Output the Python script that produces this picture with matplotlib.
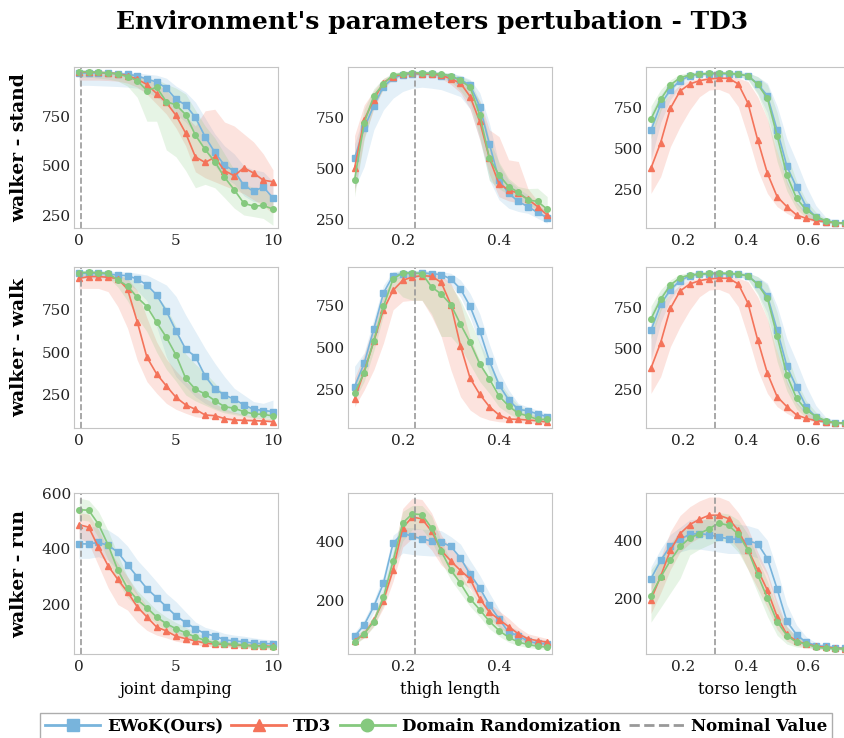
import numpy as np
import matplotlib.pyplot as plt
from matplotlib.lines import Line2D

plt.rcParams['font.family'] = 'DejaVu Serif'

# parameter grids
damping = np.arange(0, 10.01, 0.5)
thigh = np.round(np.arange(0.1, 0.501, 0.02), 2)
torso = np.linspace(0.095, 0.72, 21)

# ---- walker stand / joint damping
stand_damp_ewok = [966, 966, 966, 966, 962, 959, 952, 935, 921, 890, 834, 805, 743, 646, 568, 503, 474, 402, 372, 394, 339]
stand_damp_ewok_lo = [904, 904, 902, 900, 898, 895, 890, 870, 845, 810, 760, 720, 660, 580, 500, 440, 410, 350, 320, 320, 280]
stand_damp_ewok_hi = [975, 975, 975, 975, 972, 970, 968, 960, 955, 940, 900, 870, 820, 740, 660, 600, 560, 500, 480, 470, 420]
stand_damp_td3 = [972, 971, 969, 966, 962, 952, 935, 908, 863, 818, 753, 664, 545, 517, 543, 476, 450, 490, 464, 428, 420]
stand_damp_td3_lo = [930, 930, 930, 928, 925, 915, 895, 860, 810, 760, 690, 600, 470, 440, 420, 400, 380, 360, 330, 300, 260]
stand_damp_td3_hi = [980, 980, 978, 975, 972, 965, 955, 940, 910, 880, 820, 750, 700, 776, 784, 720, 700, 660, 620, 560, 480]
stand_damp_dr = [973, 973, 969, 966, 962, 947, 928, 878, 894, 822, 806, 757, 654, 582, 521, 443, 380, 312, 298, 301, 283]
stand_damp_dr_lo = [945, 945, 940, 935, 925, 900, 844, 724, 724, 580, 545, 476, 390, 407, 390, 340, 288, 253, 245, 236, 202]
stand_damp_dr_hi = [978, 978, 976, 974, 972, 965, 955, 935, 935, 910, 890, 860, 780, 700, 640, 560, 480, 410, 390, 380, 340]

# ---- walker stand / thigh length
stand_thigh_ewok = [549, 696, 807, 900, 941, 958, 962, 962, 962, 954, 949, 933, 908, 802, 619, 443, 377, 337, 312, 283, 258]
stand_thigh_ewok_lo = [400, 508, 688, 786, 843, 876, 892, 897, 892, 885, 868, 851, 790, 639, 443, 345, 304, 288, 279, 255, 230]
stand_thigh_ewok_hi = [620, 760, 860, 930, 960, 972, 975, 975, 975, 970, 965, 955, 935, 870, 720, 520, 440, 400, 370, 320, 290]
stand_thigh_td3 = [500, 737, 835, 920, 949, 962, 966, 962, 962, 956, 938, 917, 851, 729, 549, 423, 394, 377, 348, 312, 271]
stand_thigh_td3_lo = [380, 650, 790, 890, 935, 950, 955, 955, 950, 940, 910, 870, 790, 640, 470, 360, 340, 330, 310, 280, 250]
stand_thigh_td3_hi = [660, 810, 880, 940, 960, 972, 975, 972, 972, 968, 955, 940, 900, 830, 688, 655, 541, 533, 400, 340, 290]
stand_thigh_dr = [443, 721, 855, 913, 958, 962, 969, 966, 966, 961, 954, 930, 897, 761, 549, 467, 410, 382, 345, 337, 299]
stand_thigh_dr_lo = [360, 640, 800, 890, 945, 955, 958, 958, 955, 945, 925, 880, 820, 655, 440, 400, 370, 350, 320, 300, 270]
stand_thigh_dr_hi = [560, 790, 890, 940, 968, 975, 978, 975, 975, 972, 965, 950, 930, 830, 640, 530, 450, 410, 400, 402, 361]

# ---- walker stand / torso length
stand_torso_ewok = [611, 770, 860, 915, 946, 954, 956, 958, 956, 954, 946, 895, 823, 613, 393, 262, 144, 79, 52, 46, 42]
stand_torso_ewok_lo = [430, 660, 800, 880, 925, 940, 945, 945, 945, 940, 925, 840, 720, 480, 280, 160, 90, 55, 42, 38, 36]
stand_torso_ewok_hi = [720, 830, 900, 940, 960, 965, 968, 968, 968, 965, 962, 940, 900, 760, 560, 420, 270, 150, 80, 60, 50]
stand_torso_td3 = [379, 536, 746, 852, 895, 915, 926, 930, 930, 895, 777, 552, 348, 205, 144, 93, 72, 58, 52, 46, 42]
stand_torso_td3_lo = [225, 328, 511, 634, 736, 817, 858, 862, 838, 756, 572, 368, 225, 144, 103, 72, 60, 50, 45, 40, 38]
stand_torso_td3_hi = [593, 756, 838, 889, 919, 930, 940, 945, 945, 930, 910, 817, 680, 480, 300, 170, 110, 80, 65, 55, 48]
stand_torso_dr = [681, 801, 889, 934, 950, 956, 960, 962, 960, 956, 944, 893, 807, 577, 338, 195, 123, 83, 58, 46, 42]
stand_torso_dr_lo = [560, 730, 850, 910, 935, 945, 948, 950, 948, 945, 920, 830, 680, 420, 240, 130, 75, 50, 42, 38, 36]
stand_torso_dr_hi = [760, 860, 920, 955, 965, 970, 972, 972, 972, 970, 965, 940, 890, 720, 470, 300, 180, 110, 70, 55, 48]

# ---- walker walk / joint damping
walk_damp_ewok = [960, 960, 960, 956, 950, 946, 927, 892, 834, 740, 624, 517, 474, 361, 286, 250, 225, 192, 166, 159, 153]
walk_damp_ewok_lo = [930, 930, 930, 925, 915, 900, 860, 800, 649, 474, 357, 299, 240, 201, 172, 153, 143, 133, 125, 120, 115]
walk_damp_ewok_hi = [975, 975, 975, 972, 970, 968, 960, 950, 921, 892, 826, 717, 620, 522, 435, 357, 289, 250, 211, 201, 220]
walk_damp_td3 = [931, 941, 941, 937, 929, 867, 678, 470, 373, 303, 236, 192, 166, 133, 129, 112, 104, 102, 100, 98, 94]
walk_damp_td3_lo = [872, 872, 872, 853, 766, 640, 454, 328, 260, 201, 166, 143, 123, 114, 108, 100, 98, 96, 94, 94, 90]
walk_damp_td3_hi = [955, 958, 958, 955, 950, 930, 860, 700, 560, 460, 390, 330, 280, 230, 200, 170, 150, 135, 125, 118, 110]
walk_damp_dr = [964, 966, 964, 960, 921, 886, 820, 766, 674, 587, 483, 347, 283, 256, 217, 182, 172, 153, 139, 137, 127]
walk_damp_dr_lo = [945, 945, 945, 935, 880, 800, 700, 620, 500, 400, 330, 250, 215, 190, 165, 145, 135, 125, 115, 110, 105]
walk_damp_dr_hi = [975, 975, 975, 972, 950, 935, 910, 880, 830, 760, 650, 490, 430, 380, 320, 250, 215, 190, 170, 165, 160]

# ---- walker walk / thigh length
walk_thigh_ewok = [270, 408, 610, 823, 926, 938, 938, 942, 938, 932, 906, 847, 744, 600, 422, 280, 191, 135, 127, 108, 92]
walk_thigh_ewok_lo = [240, 360, 560, 780, 900, 915, 915, 918, 915, 905, 870, 800, 680, 520, 350, 220, 150, 110, 100, 90, 80]
walk_thigh_ewok_hi = [390, 470, 670, 870, 950, 955, 955, 958, 955, 950, 940, 900, 820, 700, 520, 360, 250, 170, 150, 130, 110]
walk_thigh_td3 = [195, 359, 537, 724, 839, 898, 918, 926, 922, 886, 754, 511, 319, 224, 151, 102, 78, 76, 72, 68, 60]
walk_thigh_td3_lo = [150, 250, 369, 527, 724, 774, 780, 780, 685, 566, 369, 210, 131, 92, 72, 62, 58, 56, 54, 52, 48]
walk_thigh_td3_hi = [320, 460, 640, 820, 900, 935, 945, 948, 945, 930, 880, 760, 560, 420, 300, 200, 150, 120, 110, 95, 80]
walk_thigh_dr = [230, 353, 540, 744, 906, 942, 942, 938, 859, 817, 754, 639, 531, 404, 315, 214, 155, 112, 96, 76, 76]
walk_thigh_dr_lo = [190, 300, 480, 690, 860, 800, 780, 780, 700, 566, 566, 500, 400, 300, 230, 150, 110, 80, 70, 60, 60]
walk_thigh_dr_hi = [280, 420, 600, 800, 940, 955, 958, 955, 930, 900, 870, 780, 660, 530, 420, 300, 220, 160, 130, 100, 95]

# ---- walker run / joint damping
run_damp_ewok = [418, 418, 423, 413, 388, 343, 300, 257, 225, 192, 159, 135, 113, 95, 87, 73, 69, 66, 61, 59, 59]
run_damp_ewok_lo = [366, 366, 372, 360, 324, 276, 234, 192, 155, 125, 101, 83, 71, 62, 57, 52, 50, 48, 46, 45, 45]
run_damp_ewok_hi = [481, 481, 478, 468, 445, 410, 360, 322, 282, 240, 210, 173, 137, 118, 108, 96, 90, 86, 80, 75, 73]
run_damp_td3 = [487, 478, 406, 339, 290, 245, 192, 155, 119, 105, 86, 77, 69, 61, 58, 57, 54, 53, 52, 51, 49]
run_damp_td3_lo = [440, 420, 340, 260, 200, 180, 137, 107, 90, 80, 68, 62, 56, 50, 48, 47, 45, 44, 43, 42, 40]
run_damp_td3_hi = [530, 525, 470, 400, 350, 300, 240, 195, 155, 130, 105, 95, 84, 74, 70, 68, 64, 62, 61, 60, 58]
run_damp_dr = [541, 539, 489, 414, 324, 258, 218, 188, 155, 131, 113, 98, 83, 71, 61, 59, 57, 54, 51, 49, 47]
run_damp_dr_lo = [505, 500, 440, 360, 280, 225, 190, 160, 130, 108, 92, 80, 68, 58, 52, 50, 48, 45, 42, 40, 38]
run_damp_dr_hi = [583, 575, 535, 465, 380, 300, 250, 215, 180, 155, 135, 118, 100, 85, 73, 70, 67, 64, 60, 58, 56]

# ---- walker run / thigh length
run_thigh_ewok = [79, 118, 180, 258, 393, 427, 416, 408, 400, 397, 382, 343, 288, 242, 185, 138, 93, 82, 63, 56, 54]
run_thigh_ewok_lo = [65, 100, 160, 235, 330, 360, 355, 352, 350, 350, 340, 300, 250, 200, 150, 110, 75, 65, 52, 48, 45]
run_thigh_ewok_hi = [92, 135, 200, 285, 420, 445, 445, 440, 440, 435, 415, 390, 335, 285, 225, 170, 115, 100, 75, 66, 62]
run_thigh_td3 = [65, 88, 133, 200, 303, 445, 481, 475, 433, 369, 333, 301, 273, 206, 161, 136, 112, 88, 71, 65, 60]
run_thigh_td3_lo = [55, 75, 115, 175, 265, 380, 410, 405, 370, 320, 290, 265, 240, 180, 135, 110, 90, 70, 58, 52, 48]
run_thigh_td3_hi = [78, 105, 150, 230, 350, 510, 545, 540, 495, 420, 375, 340, 305, 235, 190, 165, 140, 110, 88, 80, 72]
run_thigh_dr = [62, 88, 129, 211, 333, 461, 492, 489, 444, 366, 303, 258, 206, 169, 130, 99, 76, 60, 52, 46, 43]
run_thigh_dr_lo = [50, 75, 112, 185, 300, 400, 440, 440, 400, 330, 270, 225, 180, 145, 105, 80, 60, 48, 42, 38, 35]
run_thigh_dr_hi = [75, 102, 148, 240, 365, 500, 520, 520, 485, 400, 335, 290, 235, 195, 155, 120, 92, 75, 65, 58, 52]

# ---- walker run / torso length
run_torso_ewok = [269, 331, 381, 403, 421, 423, 419, 411, 406, 403, 398, 389, 337, 234, 123, 77, 51, 40, 37, 32, 31]
run_torso_ewok_lo = [230, 290, 340, 360, 370, 370, 365, 360, 355, 355, 350, 340, 280, 170, 80, 50, 38, 32, 30, 27, 26]
run_torso_ewok_hi = [310, 370, 420, 445, 470, 475, 470, 465, 460, 455, 450, 440, 400, 300, 180, 110, 70, 50, 45, 38, 36]
run_torso_td3 = [197, 277, 366, 423, 454, 472, 486, 486, 474, 434, 368, 299, 229, 139, 78, 55, 46, 37, 34, 31, 29]
run_torso_td3_lo = [150, 220, 300, 360, 390, 410, 420, 420, 410, 370, 300, 235, 170, 95, 55, 40, 35, 30, 28, 26, 25]
run_torso_td3_hi = [250, 340, 430, 485, 515, 535, 548, 548, 535, 495, 440, 360, 290, 190, 105, 70, 55, 45, 40, 36, 34]
run_torso_dr = [211, 274, 331, 379, 408, 423, 440, 459, 451, 421, 366, 282, 202, 122, 74, 51, 46, 34, 31, 29, 29]
run_torso_dr_lo = [120, 170, 220, 270, 350, 370, 385, 400, 395, 360, 300, 220, 140, 75, 45, 35, 32, 28, 26, 25, 25]
run_torso_dr_hi = [300, 340, 390, 430, 450, 465, 480, 495, 490, 470, 420, 340, 260, 170, 105, 70, 58, 42, 38, 34, 33]

nominal = {'damping': 0.1, 'thigh': 0.225, 'torso': 0.3}

ewok_color = '#78b4dc'
td3_color = '#f4735a'
dr_color = '#85c97e'

rows = ['walker - stand', 'walker - walk', 'walker - run']
cols = ['joint damping', 'thigh length', 'torso length']

# (x, [(mean, lo, hi) for ewok, td3, dr], ylim)
panels = [
    [(damping, [(stand_damp_ewok, stand_damp_ewok_lo, stand_damp_ewok_hi),
                (stand_damp_td3, stand_damp_td3_lo, stand_damp_td3_hi),
                (stand_damp_dr, stand_damp_dr_lo, stand_damp_dr_hi)], (188, 996)),
     (thigh, [(stand_thigh_ewok, stand_thigh_ewok_lo, stand_thigh_ewok_hi),
              (stand_thigh_td3, stand_thigh_td3_lo, stand_thigh_td3_hi),
              (stand_thigh_dr, stand_thigh_dr_lo, stand_thigh_dr_hi)], (207, 996)),
     (torso, [(stand_torso_ewok, stand_torso_ewok_lo, stand_torso_ewok_hi),
              (stand_torso_td3, stand_torso_td3_lo, stand_torso_td3_hi),
              (stand_torso_dr, stand_torso_dr_lo, stand_torso_dr_hi)], (13, 999))],
    [(damping, [(walk_damp_ewok, walk_damp_ewok_lo, walk_damp_ewok_hi),
                (walk_damp_td3, walk_damp_td3_lo, walk_damp_td3_hi),
                (walk_damp_dr, walk_damp_dr_lo, walk_damp_dr_hi)], (57, 997)),
     (thigh, [(walk_thigh_ewok, walk_thigh_ewok_lo, walk_thigh_ewok_hi),
              (walk_thigh_td3, walk_thigh_td3_lo, walk_thigh_td3_hi),
              (walk_thigh_dr, walk_thigh_dr_lo, walk_thigh_dr_hi)], (25, 977)),
     # the walk/torso sweep shows the same runs as stand/torso
     (torso, [(stand_torso_ewok, stand_torso_ewok_lo, stand_torso_ewok_hi),
              (stand_torso_td3, stand_torso_td3_lo, stand_torso_td3_hi),
              (stand_torso_dr, stand_torso_dr_lo, stand_torso_dr_hi)], (13, 999))],
    [(damping, [(run_damp_ewok, run_damp_ewok_lo, run_damp_ewok_hi),
                (run_damp_td3, run_damp_td3_lo, run_damp_td3_hi),
                (run_damp_dr, run_damp_dr_lo, run_damp_dr_hi)], (22, 601)),
     (thigh, [(run_thigh_ewok, run_thigh_ewok_lo, run_thigh_ewok_hi),
              (run_thigh_td3, run_thigh_td3_lo, run_thigh_td3_hi),
              (run_thigh_dr, run_thigh_dr_lo, run_thigh_dr_hi)], (20, 562)),
     (torso, [(run_torso_ewok, run_torso_ewok_lo, run_torso_ewok_hi),
              (run_torso_td3, run_torso_td3_lo, run_torso_td3_hi),
              (run_torso_dr, run_torso_dr_lo, run_torso_dr_hi)], (11, 562))],
]

col_setup = [
    ('damping', (-0.26, 10.26), [0, 5, 10]),
    ('thigh', (0.0864, 0.51), [0.2, 0.4]),
    ('torso', (0.079, 0.736), [0.2, 0.4, 0.6]),
]
markers = ['s', '^', 'o']
colors = [ewok_color, td3_color, dr_color]

W, H = 845, 738
fig = plt.figure(figsize=(W / 100, H / 100), dpi=100)
col_left = [74, 348, 646]
row_top = [67, 267, 493]
ax_w, ax_h = 204, 161

for r in range(3):
    for c in range(3):
        ax = fig.add_axes([col_left[c] / W, 1 - (row_top[r] + ax_h) / H, ax_w / W, ax_h / H])
        x, series, ylim = panels[r][c]
        key, xlim, xticks = col_setup[c]
        for (mean, lo, hi), mk, col in zip(series, markers, colors):
            ax.fill_between(x, lo, hi, color=col, alpha=0.2, linewidth=0)
            ax.plot(x, mean, color=col, marker=mk, markersize=4, linewidth=1.2)
        ax.axvline(nominal[key], color='#999999', linestyle='--', linewidth=1.2)
        if r < 2:
            ax.set_yticks([250, 500, 750])
        elif c == 0:
            ax.set_yticks([200, 400, 600])
        else:
            ax.set_yticks([200, 400])
        ax.set_xticks(xticks)
        ax.set_xlim(*xlim)
        ax.set_ylim(*ylim)
        ax.tick_params(length=0, labelsize=11, colors='#222222')
        ax.tick_params(axis='y', pad=2)
        ax.tick_params(axis='x', pad=4)
        for sp in ax.spines.values():
            sp.set_color('#c4c4c4')
        if c == 0:
            ax.set_ylabel(rows[r], fontsize=13.5, fontweight='bold', labelpad=10)
        if r == 2:
            ax.set_xlabel(cols[c], fontsize=11.5, labelpad=5)

fig.suptitle("Environment's parameters pertubation - TD3", fontsize=18,
             fontweight='bold', x=0.511, y=0.970, va='center')

handles = [
    Line2D([], [], color=ewok_color, marker='s', markersize=9, linewidth=2),
    Line2D([], [], color=td3_color, marker='^', markersize=9, linewidth=2),
    Line2D([], [], color=dr_color, marker='o', markersize=9, linewidth=2),
    Line2D([], [], color='#999999', linestyle='--', linewidth=2),
]
labels = ['EWoK(Ours)', 'TD3', 'Domain Randomization', 'Nominal Value']
fig.legend(handles, labels, loc='lower center', bbox_to_anchor=(0.516, -0.014), ncol=4,
           frameon=True, fancybox=False, edgecolor='#999999', handlelength=3.3,
           handletextpad=0.4, columnspacing=0.5, borderpad=0.3,
           prop={'weight': 'bold', 'size': 12})

fig.savefig('out.png', dpi=100)
